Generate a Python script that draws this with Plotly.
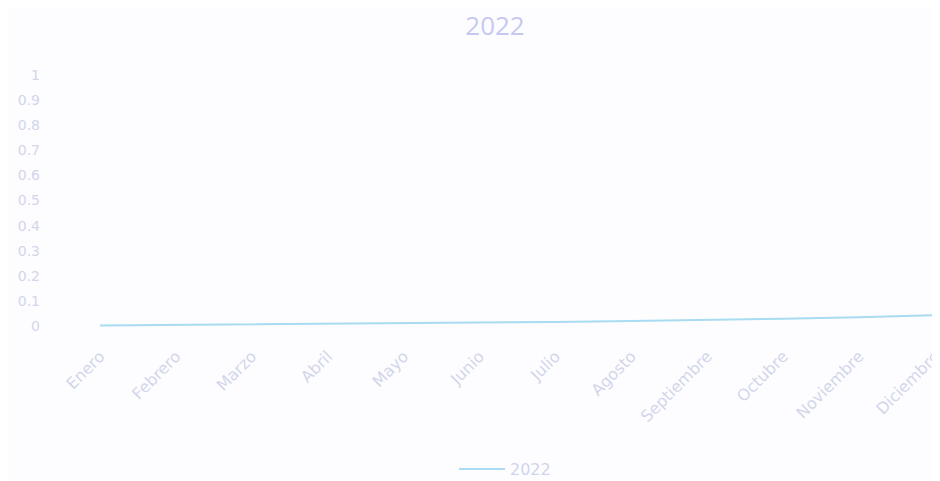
import plotly.graph_objects as go

meses = ["Enero", "Febrero", "Marzo", "Abril", "Mayo", "Junio", "Julio",
         "Agosto", "Septiembre", "Octubre", "Noviembre", "Diciembre"]
valores_2022 = [0.002, 0.004, 0.006, 0.008, 0.010, 0.013, 0.016,
                0.020, 0.024, 0.029, 0.035, 0.043]
y_ticks = [0, 0.1, 0.2, 0.3, 0.4, 0.5, 0.6, 0.7, 0.8, 0.9, 1]
y_tick_labels = ["0", "0.1", "0.2", "0.3", "0.4", "0.5", "0.6", "0.7", "0.8", "0.9", "1"]

label_color = "#d2d6ea"
fig = go.Figure()
fig.add_trace(go.Scatter(
    x=meses, y=valores_2022, mode="lines", name="2022",
    line=dict(color="#a8dcf0", width=2),
))

fig.update_layout(
    width=932, height=473,
    paper_bgcolor="#fdfdff", plot_bgcolor="#fdfdff",
    font=dict(family="DejaVu Sans", color=label_color, size=14),
    title=dict(text="2022", x=487 / 932, xanchor="center", y=1 - 18 / 473, yanchor="middle",
               font=dict(family="Open Sans", size=26, color="#c6c9ef")),
    margin=dict(l=48, r=0, t=62, b=150),
    showlegend=True,
    legend=dict(orientation="h", xref="container", yref="container",
                x=497 / 932, xanchor="center", y=1 - 461 / 473, yanchor="middle",
                itemwidth=46,
                font=dict(size=16, color="#d0d4ec"), bgcolor="rgba(0,0,0,0)"),
    xaxis=dict(
        type="category", range=[-0.58, 11.066], showgrid=False, zeroline=False,
        showline=False, ticks="", tickangle=-45, tickfont=dict(size=16, color=label_color),
        ticklabelstandoff=12, automargin=False,
    ),
    yaxis=dict(
        range=[-0.02, 1.02], tickvals=y_ticks, ticktext=y_tick_labels,
        showgrid=False, zeroline=False, showline=False, ticks="",
        tickfont=dict(size=14, color=label_color), ticklabelstandoff=15, automargin=False,
    ),
)

fig.write_html("out.html")
